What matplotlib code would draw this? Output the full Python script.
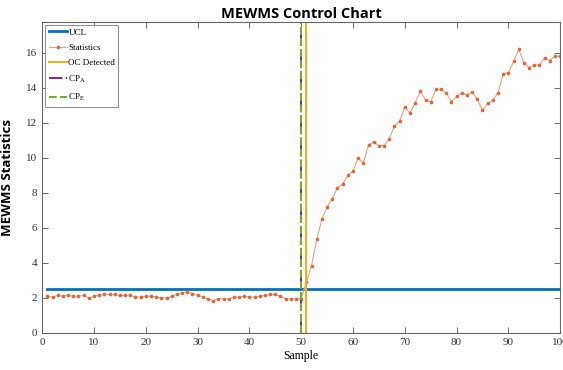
import matplotlib
matplotlib.use("Agg")
import matplotlib.pyplot as plt
import numpy as np

samples = list(range(1, 101))
statistics = [
    2.10, 2.05, 2.15, 2.10, 2.15, 2.10, 2.10, 2.15, 2.00, 2.10,
    2.15, 2.20, 2.20, 2.20, 2.15, 2.15, 2.15, 2.05, 2.05, 2.10,
    2.10, 2.05, 2.00, 2.00, 2.10, 2.20, 2.30, 2.35, 2.25, 2.15,
    2.05, 1.95, 1.85, 1.95, 1.95, 1.95, 2.05, 2.05, 2.10, 2.05,
    2.05, 2.10, 2.15, 2.20, 2.20, 2.10, 1.95, 1.95, 1.95, 1.95,
    2.90, 3.85, 5.35, 6.50, 7.20, 7.65, 8.30, 8.50, 9.00, 9.25,
    10.00, 9.70, 10.75, 10.90, 10.70, 10.70, 11.10, 11.80, 12.10, 12.90,
    12.55, 13.15, 13.80, 13.30, 13.20, 13.90, 13.90, 13.70, 13.20, 13.50,
    13.70, 13.60, 13.75, 13.35, 12.70, 13.10, 13.30, 13.70, 14.80, 14.85,
    15.50, 16.20, 15.40, 15.15, 15.30, 15.30, 15.70, 15.55, 15.80, 15.80,
]
ucl = 2.52
oc_detected = 51
cp_a = 50
cp_e = 50
x_ticks = [0, 10, 20, 30, 40, 50, 60, 70, 80, 90, 100]
y_ticks = [0, 2, 4, 6, 8, 10, 12, 14, 16]

fig = plt.figure(figsize=(5.63, 3.70), dpi=100)
ax = fig.add_axes([0.075, 0.10, 0.92, 0.8405])

ax.plot([samples[0], samples[-1]], [ucl, ucl], color="#0072BD", lw=2.0, label="UCL")
ax.plot(samples, statistics, color="#F2A07E", lw=0.8, marker="o", markersize=1.6,
        markerfacecolor="#E0683A", markeredgecolor="#E0683A", label="Statistics")
ax.axvline(oc_detected, color="#EDB120", lw=1.5, label="OC Detected")
ax.axvline(cp_a, color="#7E2F8E", lw=1.5, ls="-.", label="CP$_\\mathregular{A}$")
ax.axvline(cp_e, color="#77AC30", lw=1.5, ls="--", label="CP$_\\mathregular{E}$")

ax.set_xlim(0, 100)
ax.set_ylim(0, 17.75)
ax.set_xticks(x_ticks)
ax.set_yticks(y_ticks)
ax.tick_params(direction="in", top=True, right=True, length=4, width=0.6,
               labelsize=8, colors="#555555", labelcolor="#333333")
for lab in ax.get_xticklabels() + ax.get_yticklabels():
    lab.set_family("Liberation Serif")
for s in ax.spines.values():
    s.set_color("#666666")
    s.set_linewidth(0.8)

ax.set_title("MEWMS Control Chart", fontsize=10.5, fontweight="bold",
             family="Open Sans", pad=3)
ax.set_ylabel("MEWMS Statistics", fontsize=9.5, fontweight="bold", family="Open Sans",
              labelpad=9)
ax.set_xlabel("Sample", fontsize=8.5, family="Liberation Serif", labelpad=2)

leg = ax.legend(loc="upper left", prop={"family": "Liberation Serif", "size": 6.5},
                frameon=True, fancybox=False, edgecolor="#777777",
                handlelength=2.0, handletextpad=0.2, borderpad=0.35,
                labelspacing=0.75, borderaxespad=0.35)
leg.get_frame().set_linewidth(0.8)

fig.savefig("out.png", dpi=100)
